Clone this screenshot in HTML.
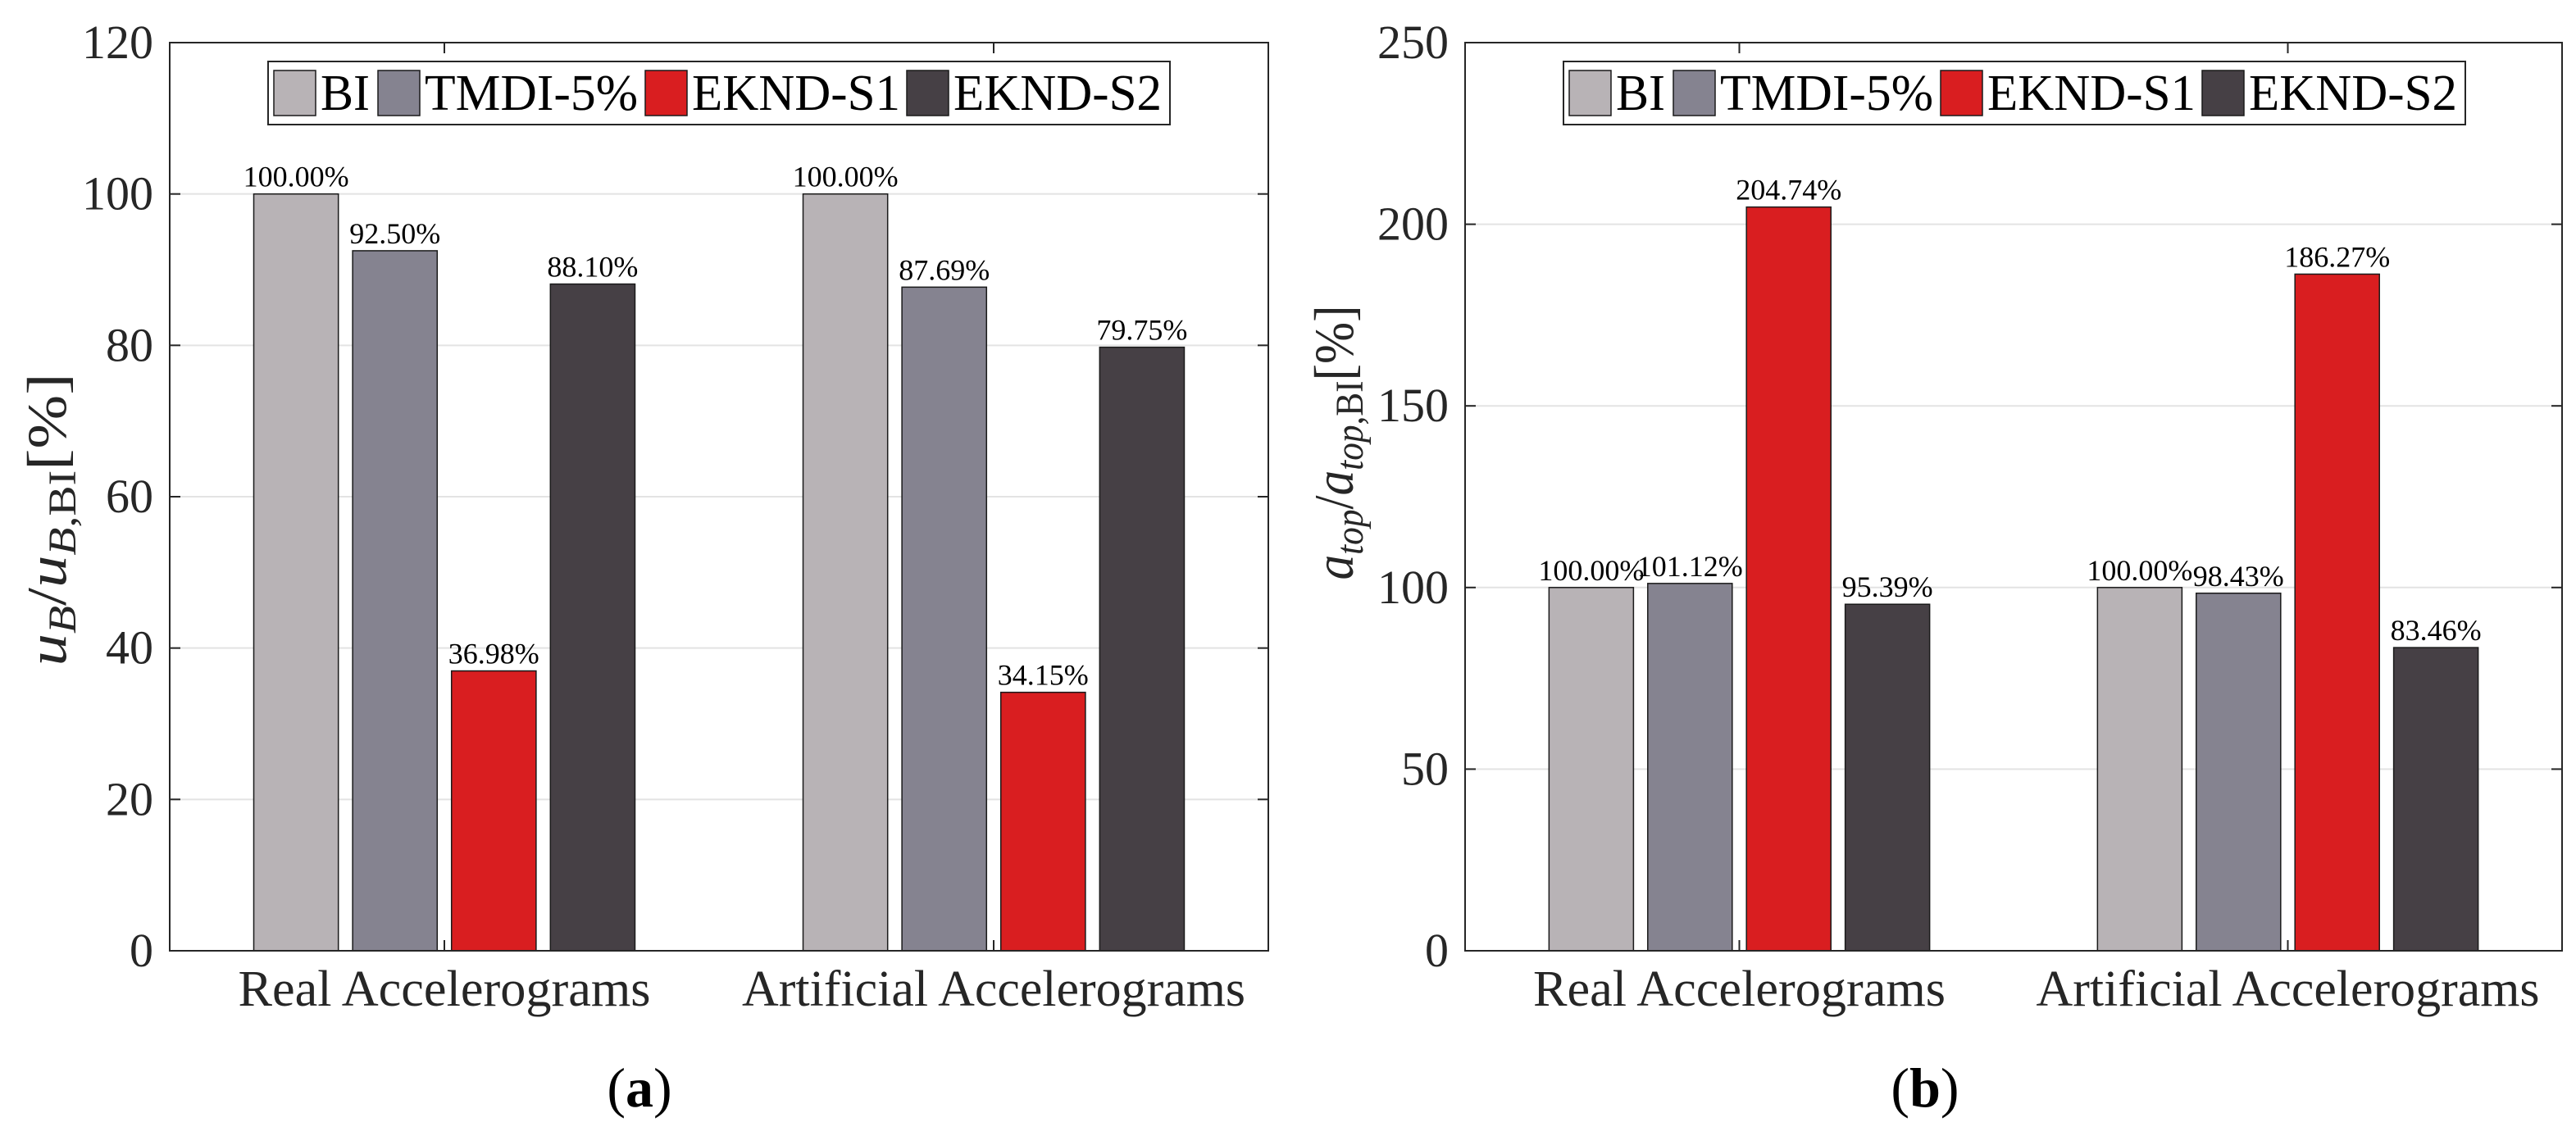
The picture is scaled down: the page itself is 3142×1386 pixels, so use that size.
<!DOCTYPE html>
<html><head><meta charset="utf-8"><style>
html,body{margin:0;padding:0;background:#fff;}
svg{display:block;}
svg text{font-family:"Liberation Serif","DejaVu Serif",serif !important;}
</style></head><body>
<svg id="fig" width="3142" height="1386" viewBox="0 0 3142 1386" xmlns="http://www.w3.org/2000/svg" font-family="Liberation Serif, DejaVu Serif, serif">
  <text x="52" y="606" transform="rotate(-90 80 606)" font-size="68" fill="#262626" text-anchor="middle" textLength="357" lengthAdjust="spacingAndGlyphs"><tspan font-style="italic">u</tspan><tspan font-style="italic" font-size="48" dy="12">B</tspan><tspan dy="-12">/</tspan><tspan font-style="italic">u</tspan><tspan font-size="48" dy="12"><tspan font-style="italic">B</tspan>,BI</tspan><tspan dy="-12">[%]</tspan></text>
  <text x="1650" y="540" transform="rotate(-90 1650 540)" font-size="68" fill="#262626" text-anchor="middle" textLength="335" lengthAdjust="spacingAndGlyphs"><tspan font-style="italic">a</tspan><tspan font-style="italic" font-size="48" dy="12">top</tspan><tspan dy="-12">/</tspan><tspan font-style="italic">a</tspan><tspan font-size="48" dy="12"><tspan font-style="italic">top</tspan>,BI</tspan><tspan dy="-12">[%]</tspan></text>
  <text x="780" y="1350" font-size="68" text-anchor="middle" fill="#000">(<tspan font-weight="bold">a</tspan>)</text>
  <text x="2348" y="1350" font-size="68" text-anchor="middle" fill="#000">(<tspan font-weight="bold">b</tspan>)</text>
</svg>
<script>
const categories = ["Real Accelerograms", "Artificial Accelerograms"];
const seriesNames = ["BI", "TMDI-5%", "EKND-S1", "EKND-S2"];
const seriesColors = ["#b8b3b6", "#858390", "#d91e20", "#464045"];
const uBI = [100.00, 100.00];
const uTMDI = [92.50, 87.69];
const uS1 = [36.98, 34.15];
const uS2 = [88.10, 79.75];
const aBI = [100.00, 100.00];
const aTMDI = [101.12, 98.43];
const aS1 = [204.74, 186.27];
const aS2 = [95.39, 83.46];
const ticksA = [0, 20, 40, 60, 80, 100, 120];
const ticksB = [0, 50, 100, 150, 200, 250];

const NS = "http://www.w3.org/2000/svg";
const svg = document.getElementById('fig');
function mk(tag, attrs, parent) {
  const e = document.createElementNS(NS, tag);
  for (const k in attrs) e.setAttribute(k, attrs[k]);
  (parent || svg).appendChild(e);
  return e;
}

function drawChart(id, L, R, T, B, ymax, ticks, series) {
  const g = mk('g', {});
  
  
  const xs = v => L + (v - 0.5) / 2 * (R - L);
  const ys = v => B - v / ymax * (B - T);
  const unit = (R - L) / 2;
  ticks.forEach(t => {
    if (t === 0 || t === ymax) return;
    const ln = mk('line', {x1: L, x2: R, y1: ys(t), y2: ys(t), stroke: '#e3e3e3', 'stroke-width': 2}, g);
    
    
  });
  const offs = [-0.27, -0.09, 0.09, 0.27];
  const bw = 0.154 * unit;
  series.forEach((vals, si) => {
    vals.forEach((v, ci) => {
      const cx = xs(ci + 1) + offs[si] * unit;
      const r = mk('rect', {x: cx - bw / 2, y: ys(v), width: bw, height: ys(0) - ys(v), fill: seriesColors[si], stroke: '#1a1a1a', 'stroke-width': 1.5}, g);
      
      
      const t = mk('text', {x: cx, y: ys(v) - 9, 'font-size': 36, 'text-anchor': 'middle', fill: '#000'}, g);
      t.textContent = v.toFixed(2) + '%';
      
      
    });
  });
  const box = mk('rect', {x: L, y: T, width: R - L, height: B - T, fill: 'none', stroke: '#262626', 'stroke-width': 2}, g);
  
  
  ticks.forEach(t => {
    mk('line', {x1: L, x2: L + 13, y1: ys(t), y2: ys(t), stroke: '#262626', 'stroke-width': 2}, g);
    mk('line', {x1: R, x2: R - 13, y1: ys(t), y2: ys(t), stroke: '#262626', 'stroke-width': 2}, g);
    const tl = mk('text', {x: L - 20, y: ys(t) + 19, 'font-size': 58, 'text-anchor': 'end', fill: '#262626'}, g);
    tl.textContent = t;
    
    
  });
  categories.forEach((c, i) => {
    const x = xs(i + 1);
    mk('line', {x1: x, x2: x, y1: B, y2: B - 13, stroke: '#262626', 'stroke-width': 2}, g);
    mk('line', {x1: x, x2: x, y1: T, y2: T + 13, stroke: '#262626', 'stroke-width': 2}, g);
    const tl = mk('text', {x: x, y: 1227, 'font-size': 62, 'text-anchor': 'middle', fill: '#262626', textLength: i === 0 ? 503 : 614, lengthAdjust: 'spacingAndGlyphs'}, g);
    tl.textContent = c;
    
    
  });
  const LL = L + 120;
  const lg = mk('g', {}, g);
  
  
  mk('rect', {x: LL, y: 75, width: 1100, height: 77, fill: '#fff', stroke: '#262626', 'stroke-width': 2}, lg);
  const px = [7, 134, 460, 779];
  const tw = [60, 260, 254, 254];
  seriesNames.forEach((n, i) => {
    const p = mk('rect', {x: LL + px[i], y: 86, width: 51, height: 55, fill: seriesColors[i], stroke: '#1a1a1a', 'stroke-width': 1.5}, lg);
    
    
    const t = mk('text', {x: LL + px[i] + 57, y: 134, 'font-size': 62, fill: '#000', textLength: tw[i], lengthAdjust: 'spacingAndGlyphs'}, lg);
    t.textContent = n;
    
    
  });
}

drawChart('a', 207, 1547, 52, 1160, 120, ticksA, [uBI, uTMDI, uS1, uS2]);
drawChart('b', 1787, 3125, 52, 1160, 250, ticksB, [aBI, aTMDI, aS1, aS2]);
</script>
</body></html>
